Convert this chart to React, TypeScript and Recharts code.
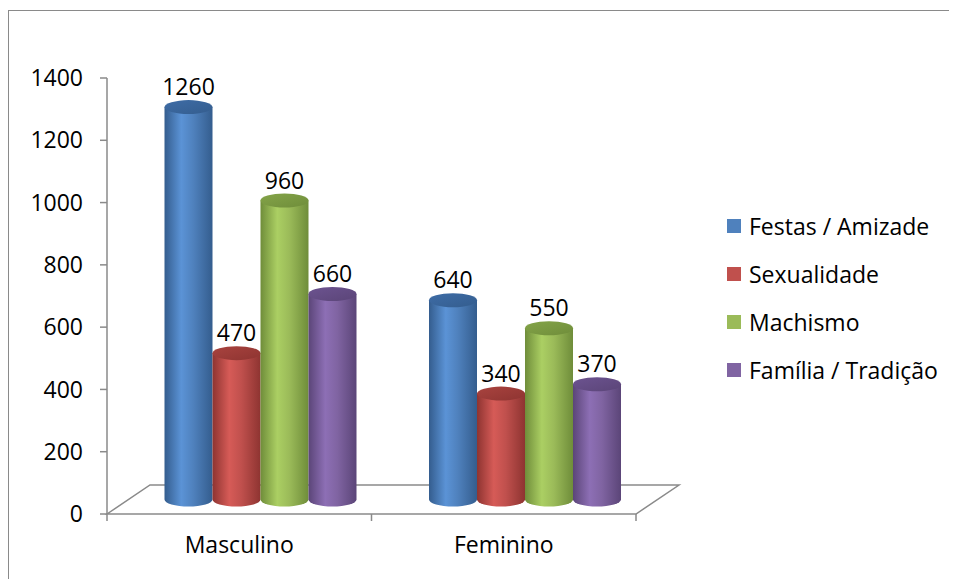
import { BarChart, Bar, XAxis, YAxis, LabelList } from 'recharts';

const categories = ['Masculino', 'Feminino'];
const seriesNames = ['Festas / Amizade', 'Sexualidade', 'Machismo', 'Família / Tradição'];
const festas = [1260, 640];
const sexualidade = [470, 340];
const machismo = [960, 550];
const familia = [660, 370];
const yTicks = [0, 200, 400, 600, 800, 1000, 1200, 1400];

const data = categories.map((name, i) => ({
  name,
  festas: festas[i],
  sexualidade: sexualidade[i],
  machismo: machismo[i],
  familia: familia[i],
}));

const keys = ['festas', 'sexualidade', 'machismo', 'familia'];
// base, highlight, dark edge, top cap
const palette = [
  ['#4F81BD', '#5B93D6', '#345D8E', '#3E6CA6'],
  ['#C0504D', '#D65B57', '#8E3431', '#A9433F'],
  ['#9BBB59', '#ABCF63', '#6F8D3A', '#84A449'],
  ['#8064A2', '#8D6FB5', '#5B4578', '#6C5390'],
];

const W = 949;
const H = 571;
const X_H = 30;
const M = { top: 70, right: 321, bottom: 65 - X_H, left: 0 };
const Y_W = 99;
const PL = M.left + Y_W;
const PR = W - M.right;
const PB = H - M.bottom - X_H;
const DEPTH_X = 43;
const DEPTH_Y = -29;
const DX = DEPTH_X / 2;
const DY = DEPTH_Y / 2;
const RY = 7;
const AXIS = '#8a8a8a';
const FONT = '"Open Sans", "Noto Sans", sans-serif';
const FS = 23;

function Cylinder(props: any) {
  const { x, y, width, height, idx } = props;
  const left = x + DX;
  const right = left + width;
  const top = y + DY;
  const bottom = y + height + DY;
  const cx = left + width / 2;
  const rx = width / 2;
  return (
    <g>
      <path
        d={`M${left},${top} L${left},${bottom} A${rx},${RY} 0 0 0 ${right},${bottom} L${right},${top} Z`}
        fill={`url(#body${idx})`}
      />
      <ellipse cx={cx} cy={top} rx={rx} ry={RY} fill={`url(#cap${idx})`} />
    </g>
  );
}

function Floor() {
  const mid = (PL + PR) / 2;
  return (
    <g stroke={AXIS} strokeWidth={1.5} fill="none">
      <path
        d={`M${PL},${PB} L${PL + DEPTH_X},${PB + DEPTH_Y} L${PR + DEPTH_X},${PB + DEPTH_Y} L${PR},${PB} Z`}
      />
      <line x1={PL} y1={PB} x2={PL} y2={PB + 7} />
      <line x1={mid} y1={PB} x2={mid} y2={PB + 7} />
      <line x1={PR} y1={PB} x2={PR} y2={PB + 7} />
    </g>
  );
}

function LegendBox() {
  return (
    <div
      style={{
        position: 'absolute',
        left: 719,
        top: 194,
        fontFamily: FONT,
        fontSize: FS,
        color: '#000',
      }}
    >
      {seriesNames.map((n, i) => (
        <div key={n} style={{ display: 'flex', alignItems: 'center', height: 48 }}>
          <span style={{ width: 14, height: 14, background: palette[i][0], marginRight: 8 }} />
          <span>{n}</span>
        </div>
      ))}
    </div>
  );
}

export default function App() {
  return (
    <div style={{ position: 'relative', width: W, height: H }}>
      <div
        style={{
          position: 'absolute',
          top: 2,
          left: 0,
          width: W,
          height: H - 2,
          borderTop: `1.5px solid ${AXIS}`,
          borderLeft: `1.5px solid ${AXIS}`,
          boxSizing: 'border-box',
        }}
      />
      <BarChart
        width={W}
        height={H}
        data={data}
        margin={M}
        barGap={0}
        barSize={48}
        style={{ fontFamily: FONT }}
      >
        <defs>
          {palette.map((p, i) => (
            <g key={i}>
              <linearGradient id={`body${i}`} x1="0" y1="0" x2="1" y2="0">
                <stop offset="0%" stopColor={p[2]} />
                <stop offset="35%" stopColor={p[1]} />
                <stop offset="60%" stopColor={p[0]} />
                <stop offset="100%" stopColor={p[2]} />
              </linearGradient>
              <linearGradient id={`cap${i}`} x1="0" y1="0" x2="1" y2="1">
                <stop offset="0%" stopColor={p[3]} />
                <stop offset="100%" stopColor={p[2]} />
              </linearGradient>
            </g>
          ))}
        </defs>
        <Floor />
        <XAxis
          dataKey="name"
          height={X_H}
          axisLine={false}
          tickLine={false}
          tickSize={7}
          tickMargin={16}
          tick={{ fill: '#000', fontSize: FS }}
        />
        <YAxis
          width={Y_W}
          domain={[0, 1400]}
          ticks={yTicks}
          axisLine={{ stroke: AXIS, strokeWidth: 1.5 }}
          tickLine={{ stroke: AXIS, strokeWidth: 1.5 }}
          tickSize={7}
          tickMargin={17}
          tick={{ fill: '#000', fontSize: FS }}
        />
        {keys.map((k, i) => (
          <Bar
            key={k}
            dataKey={k}
            name={seriesNames[i]}
            fill={palette[i][0]}
            isAnimationActive={false}
            shape={(p: any) => <Cylinder {...p} idx={i} />}
          >
            <LabelList
              dataKey={k}
              content={(p: any) => (
                <text
                  x={p.x + p.width / 2 + DX}
                  y={p.y + DY - 12}
                  textAnchor="middle"
                  fontSize={FS}
                  fill="#000"
                  fontFamily={FONT}
                >
                  {p.value}
                </text>
              )}
            />
          </Bar>
        ))}
      </BarChart>
      <LegendBox />
    </div>
  );
}
